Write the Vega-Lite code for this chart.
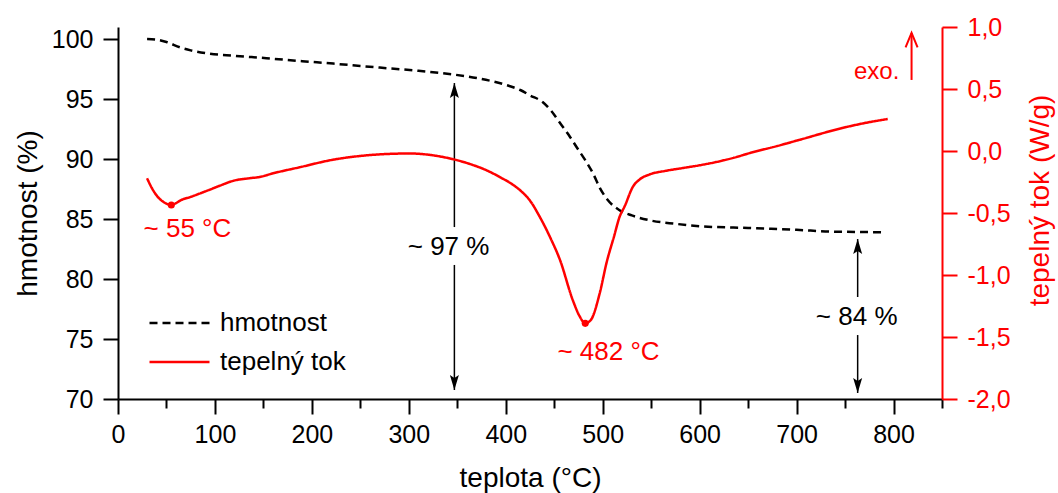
{
  "$schema": "https://vega.github.io/schema/vega-lite/v6.json",
  "width": 824,
  "height": 372,
  "autosize": {"type": "none"},
  "padding": {"left": 118, "top": 27, "right": 116, "bottom": 94},
  "background": "white",
  "config": {
    "view": {"stroke": null},
    "font": "Liberation Sans",
    "axis": {
      "labelFont": "Liberation Sans",
      "titleFont": "Liberation Sans",
      "labelFontSize": 25,
      "titleFontSize": 28,
      "titleFontWeight": "normal",
      "grid": false,
      "domainWidth": 2,
      "tickWidth": 2,
      "labelOverlap": false,
      "labelFlush": false,
      "labelBound": false
    }
  },
  "datasets": {
    "tg": [
      {"t": 30, "m": 100.0, "s": "hmotnost"},
      {"t": 40, "m": 99.95, "s": "hmotnost"},
      {"t": 50, "m": 99.75, "s": "hmotnost"},
      {"t": 64, "m": 99.3, "s": "hmotnost"},
      {"t": 75, "m": 99.05, "s": "hmotnost"},
      {"t": 92, "m": 98.8, "s": "hmotnost"},
      {"t": 120, "m": 98.6, "s": "hmotnost"},
      {"t": 153, "m": 98.4, "s": "hmotnost"},
      {"t": 190, "m": 98.15, "s": "hmotnost"},
      {"t": 222, "m": 97.95, "s": "hmotnost"},
      {"t": 250, "m": 97.75, "s": "hmotnost"},
      {"t": 280, "m": 97.55, "s": "hmotnost"},
      {"t": 310, "m": 97.35, "s": "hmotnost"},
      {"t": 345, "m": 97.05, "s": "hmotnost"},
      {"t": 370, "m": 96.75, "s": "hmotnost"},
      {"t": 401, "m": 96.15, "s": "hmotnost"},
      {"t": 415, "m": 95.75, "s": "hmotnost"},
      {"t": 425, "m": 95.3, "s": "hmotnost"},
      {"t": 438, "m": 94.75, "s": "hmotnost"},
      {"t": 447, "m": 94.0, "s": "hmotnost"},
      {"t": 456, "m": 93.0, "s": "hmotnost"},
      {"t": 465, "m": 92.0, "s": "hmotnost"},
      {"t": 473, "m": 91.0, "s": "hmotnost"},
      {"t": 482, "m": 89.9, "s": "hmotnost"},
      {"t": 490, "m": 88.8, "s": "hmotnost"},
      {"t": 497, "m": 87.6, "s": "hmotnost"},
      {"t": 505, "m": 86.6, "s": "hmotnost"},
      {"t": 517, "m": 85.75, "s": "hmotnost"},
      {"t": 530, "m": 85.3, "s": "hmotnost"},
      {"t": 548, "m": 84.9, "s": "hmotnost"},
      {"t": 575, "m": 84.6, "s": "hmotnost"},
      {"t": 600, "m": 84.4, "s": "hmotnost"},
      {"t": 650, "m": 84.25, "s": "hmotnost"},
      {"t": 700, "m": 84.1, "s": "hmotnost"},
      {"t": 737, "m": 83.95, "s": "hmotnost"},
      {"t": 791, "m": 83.9, "s": "hmotnost"}
    ],
    "dsc": [
      {"t": 30, "hf": -0.22, "s": "tepelný tok"},
      {"t": 35, "hf": -0.3, "s": "tepelný tok"},
      {"t": 40, "hf": -0.36, "s": "tepelný tok"},
      {"t": 45, "hf": -0.4, "s": "tepelný tok"},
      {"t": 50, "hf": -0.425, "s": "tepelný tok"},
      {"t": 55, "hf": -0.435, "s": "tepelný tok"},
      {"t": 60, "hf": -0.42, "s": "tepelný tok"},
      {"t": 64, "hf": -0.4, "s": "tepelný tok"},
      {"t": 75, "hf": -0.37, "s": "tepelný tok"},
      {"t": 92, "hf": -0.32, "s": "tepelný tok"},
      {"t": 105, "hf": -0.28, "s": "tepelný tok"},
      {"t": 119, "hf": -0.24, "s": "tepelný tok"},
      {"t": 135, "hf": -0.22, "s": "tepelný tok"},
      {"t": 146, "hf": -0.21, "s": "tepelný tok"},
      {"t": 160, "hf": -0.18, "s": "tepelný tok"},
      {"t": 188, "hf": -0.13, "s": "tepelný tok"},
      {"t": 222, "hf": -0.07, "s": "tepelný tok"},
      {"t": 250, "hf": -0.04, "s": "tepelný tok"},
      {"t": 275, "hf": -0.025, "s": "tepelný tok"},
      {"t": 301, "hf": -0.02, "s": "tepelný tok"},
      {"t": 325, "hf": -0.035, "s": "tepelný tok"},
      {"t": 345, "hf": -0.065, "s": "tepelný tok"},
      {"t": 365, "hf": -0.11, "s": "tepelný tok"},
      {"t": 380, "hf": -0.155, "s": "tepelný tok"},
      {"t": 395, "hf": -0.215, "s": "tepelný tok"},
      {"t": 407, "hf": -0.27, "s": "tepelný tok"},
      {"t": 416, "hf": -0.325, "s": "tepelný tok"},
      {"t": 425, "hf": -0.4, "s": "tepelný tok"},
      {"t": 435, "hf": -0.53, "s": "tepelný tok"},
      {"t": 446, "hf": -0.7, "s": "tepelný tok"},
      {"t": 456, "hf": -0.88, "s": "tepelný tok"},
      {"t": 469, "hf": -1.2, "s": "tepelný tok"},
      {"t": 476, "hf": -1.33, "s": "tepelný tok"},
      {"t": 482, "hf": -1.39, "s": "tepelný tok"},
      {"t": 488, "hf": -1.36, "s": "tepelný tok"},
      {"t": 497, "hf": -1.145, "s": "tepelný tok"},
      {"t": 504, "hf": -0.9, "s": "tepelný tok"},
      {"t": 512, "hf": -0.68, "s": "tepelný tok"},
      {"t": 517, "hf": -0.54, "s": "tepelný tok"},
      {"t": 523, "hf": -0.44, "s": "tepelný tok"},
      {"t": 531, "hf": -0.29, "s": "tepelný tok"},
      {"t": 538, "hf": -0.23, "s": "tepelný tok"},
      {"t": 548, "hf": -0.19, "s": "tepelný tok"},
      {"t": 565, "hf": -0.16, "s": "tepelný tok"},
      {"t": 583, "hf": -0.137, "s": "tepelný tok"},
      {"t": 600, "hf": -0.115, "s": "tepelný tok"},
      {"t": 617, "hf": -0.089, "s": "tepelný tok"},
      {"t": 635, "hf": -0.055, "s": "tepelný tok"},
      {"t": 652, "hf": -0.016, "s": "tepelný tok"},
      {"t": 680, "hf": 0.04, "s": "tepelný tok"},
      {"t": 703, "hf": 0.09, "s": "tepelný tok"},
      {"t": 747, "hf": 0.185, "s": "tepelný tok"},
      {"t": 770, "hf": 0.225, "s": "tepelný tok"},
      {"t": 794, "hf": 0.258, "s": "tepelný tok"}
    ],
    "arrowsA": [
      {"t": 347, "m": 96.33, "m2": 84.33},
      {"t": 347, "m": 81.17, "m2": 70.75},
      {"t": 763, "m": 83.33, "m2": 78.5},
      {"t": 763, "m": 75.33, "m2": 70.5}
    ],
    "headsA": [
      {"t": 347, "m": 96.33, "dir": "up"},
      {"t": 347, "m": 70.75, "dir": "down"},
      {"t": 763, "m": 83.33, "dir": "up"},
      {"t": 763, "m": 70.5, "dir": "down"}
    ],
    "labelsA": [
      {"t": 341, "m": 82.67, "label": "~ 97 %"},
      {"t": 762, "m": 76.83, "label": "~ 84 %"}
    ],
    "peaks": [
      {"t": 55, "hf": -0.435},
      {"t": 482, "hf": -1.39}
    ],
    "peakLabels": [
      {"t": 71.6, "hf": -0.629, "label": "~ 55 °C"},
      {"t": 506, "hf": -1.621, "label": "~ 482 °C"}
    ],
    "exo": [
      {"t": 818.6, "hf": 0.952, "hf2": 0.573}
    ],
    "exoLabel": [
      {"t": 806, "hf": 0.637, "label": "exo."}
    ]
  },
  "layer": [
    {
      "layer": [
        {
          "data": {"name": "tg"},
          "mark": {"type": "line", "strokeWidth": 2.5, "interpolate": "monotone"},
          "encoding": {
            "x": {
              "field": "t", "type": "quantitative",
              "scale": {"domain": [0, 850], "nice": false, "zero": false},
              "axis": {
                "title": "teplota (°C)",
                "values": [0, 50, 100, 150, 200, 250, 300, 350, 400, 450, 500, 550, 600, 650, 700, 750, 800, 850],
                "labelExpr": "datum.value % 100 === 0 ? datum.label : ''",
                "tickSize": {"condition": {"test": "datum.value % 100 === 0", "value": 15}, "value": 9},
                "domainColor": "black", "tickColor": "black", "labelColor": "black", "titleColor": "black",
                "labelPadding": 8,
                "titleY": 87, "titleBaseline": "alphabetic"
              }
            },
            "y": {
              "field": "m", "type": "quantitative",
              "scale": {"domain": [70, 101], "nice": false, "zero": false},
              "axis": {
                "title": "hmotnost (%)",
                "orient": "left",
                "values": [70, 72.5, 75, 77.5, 80, 82.5, 85, 87.5, 90, 92.5, 95, 97.5, 100],
                "labelExpr": "datum.value % 5 === 0 ? datum.label : ''",
                "tickSize": {"condition": {"test": "datum.value % 5 === 0", "value": 15}, "value": 9},
                "domainColor": "black", "tickColor": "black", "labelColor": "black", "titleColor": "black",
                "labelPadding": 10,
                "titleX": -82, "titleY": 186, "titleBaseline": "alphabetic", "titleAngle": -90
              }
            },
            "color": {
              "field": "s", "type": "nominal",
              "scale": {"domain": ["hmotnost", "tepelný tok"], "range": ["#000000", "#ff0000"]},
              "legend": {
                "title": null, "orient": "none", "legendX": 30, "legendY": 286,
                "symbolType": "stroke", "symbolSize": 3600, "symbolStrokeWidth": 2.5,
                "labelFontSize": 26, "labelFont": "Liberation Sans", "labelColor": "black",
                "labelOffset": 9, "clipHeight": 20, "rowPadding": 13, "padding": 0
              }
            },
            "strokeDash": {
              "field": "s", "type": "nominal",
              "scale": {"domain": ["hmotnost", "tepelný tok"], "range": [[8, 5], [1, 0]]},
              "legend": {
                "title": null, "orient": "none", "legendX": 30, "legendY": 286,
                "symbolType": "stroke", "symbolSize": 3600, "symbolStrokeWidth": 2.5,
                "labelFontSize": 26, "labelFont": "Liberation Sans", "labelColor": "black",
                "labelOffset": 9, "clipHeight": 20, "rowPadding": 13, "padding": 0
              }
            }
          }
        },
        {
          "data": {"name": "arrowsA"},
          "mark": {"type": "rule", "strokeWidth": 1.5, "color": "black"},
          "encoding": {
            "x": {"field": "t", "type": "quantitative"},
            "y": {"field": "m", "type": "quantitative"},
            "y2": {"field": "m2"}
          }
        },
        {
          "data": {"name": "headsA"},
          "transform": [{"filter": "datum.dir === 'up'"}],
          "mark": {"type": "point", "filled": true, "color": "black", "opacity": 1, "strokeWidth": 0, "size": 100, "shape": "M0,0 L0.9,3 L0,2.4 L-0.9,3 Z"},
          "encoding": {
            "x": {"field": "t", "type": "quantitative"},
            "y": {"field": "m", "type": "quantitative"}
          }
        },
        {
          "data": {"name": "headsA"},
          "transform": [{"filter": "datum.dir === 'down'"}],
          "mark": {"type": "point", "filled": true, "color": "black", "opacity": 1, "strokeWidth": 0, "size": 100, "shape": "M0,0 L0.9,-3 L0,-2.4 L-0.9,-3 Z"},
          "encoding": {
            "x": {"field": "t", "type": "quantitative"},
            "y": {"field": "m", "type": "quantitative"}
          }
        },
        {
          "data": {"name": "labelsA"},
          "mark": {"type": "text", "fontSize": 26, "font": "Liberation Sans", "color": "black"},
          "encoding": {
            "x": {"field": "t", "type": "quantitative"},
            "y": {"field": "m", "type": "quantitative"},
            "text": {"field": "label"}
          }
        }
      ]
    },
    {
      "layer": [
        {
          "data": {"name": "dsc"},
          "mark": {"type": "line", "strokeWidth": 2.5, "interpolate": "monotone"},
          "encoding": {
            "x": {"field": "t", "type": "quantitative"},
            "y": {
              "field": "hf", "type": "quantitative",
              "scale": {"domain": [-2, 1], "nice": false, "zero": false},
              "axis": {
                "title": "tepelný tok (W/g)",
                "orient": "right",
                "values": [-2, -1.75, -1.5, -1.25, -1, -0.75, -0.5, -0.25, 0, 0.25, 0.5, 0.75, 1],
                "labelExpr": "abs(datum.value*2 - round(datum.value*2)) < 0.001 ? (datum.value < -0.001 ? '-' : '') + replace(format(abs(datum.value), '.1f'), '.', ',') : ''",
                "tickSize": {"condition": {"test": "abs(datum.value*2 - round(datum.value*2)) < 0.001", "value": 15}, "value": 9},
                "domainColor": "#ff0000", "tickColor": "#ff0000", "labelColor": "#ff0000", "titleColor": "#ff0000",
                "labelPadding": 10,
                "titleAngle": -90, "titleX": 106, "titleY": 173, "titleBaseline": "alphabetic"
              }
            },
            "color": {
              "field": "s", "type": "nominal",
              "scale": {"domain": ["hmotnost", "tepelný tok"], "range": ["#000000", "#ff0000"]},
              "legend": {
                "title": null, "orient": "none", "legendX": 30, "legendY": 286,
                "symbolType": "stroke", "symbolSize": 3600, "symbolStrokeWidth": 2.5,
                "labelFontSize": 26, "labelFont": "Liberation Sans", "labelColor": "black",
                "labelOffset": 9, "clipHeight": 20, "rowPadding": 13, "padding": 0
              }
            },
            "strokeDash": {
              "field": "s", "type": "nominal",
              "scale": {"domain": ["hmotnost", "tepelný tok"], "range": [[8, 5], [1, 0]]},
              "legend": {
                "title": null, "orient": "none", "legendX": 30, "legendY": 286,
                "symbolType": "stroke", "symbolSize": 3600, "symbolStrokeWidth": 2.5,
                "labelFontSize": 26, "labelFont": "Liberation Sans", "labelColor": "black",
                "labelOffset": 9, "clipHeight": 20, "rowPadding": 13, "padding": 0
              }
            }
          }
        },
        {
          "data": {"name": "peaks"},
          "mark": {"type": "point", "filled": true, "color": "#ff0000", "opacity": 1, "size": 50},
          "encoding": {
            "x": {"field": "t", "type": "quantitative"},
            "y": {"field": "hf", "type": "quantitative"}
          }
        },
        {
          "data": {"name": "peakLabels"},
          "mark": {"type": "text", "fontSize": 26, "font": "Liberation Sans", "color": "#ff0000"},
          "encoding": {
            "x": {"field": "t", "type": "quantitative"},
            "y": {"field": "hf", "type": "quantitative"},
            "text": {"field": "label"}
          }
        },
        {
          "data": {"name": "exo"},
          "mark": {"type": "rule", "strokeWidth": 2, "color": "#ff0000"},
          "encoding": {
            "x": {"field": "t", "type": "quantitative"},
            "y": {"field": "hf", "type": "quantitative"},
            "y2": {"field": "hf2"}
          }
        },
        {
          "data": {"name": "exo"},
          "mark": {"type": "point", "filled": false, "stroke": "#ff0000", "fill": null, "opacity": 1, "strokeWidth": 2, "size": 144, "shape": "M-1,2.4 L0,0 L1,2.4"},
          "encoding": {
            "x": {"field": "t", "type": "quantitative"},
            "y": {"field": "hf", "type": "quantitative"}
          }
        },
        {
          "data": {"name": "exoLabel"},
          "mark": {"type": "text", "fontSize": 24, "font": "Liberation Sans", "color": "#ff0000", "align": "right"},
          "encoding": {
            "x": {"field": "t", "type": "quantitative"},
            "y": {"field": "hf", "type": "quantitative"},
            "text": {"field": "label"}
          }
        }
      ]
    }
  ],
  "resolve": {"scale": {"y": "independent"}, "axis": {"y": "independent"}}
}
